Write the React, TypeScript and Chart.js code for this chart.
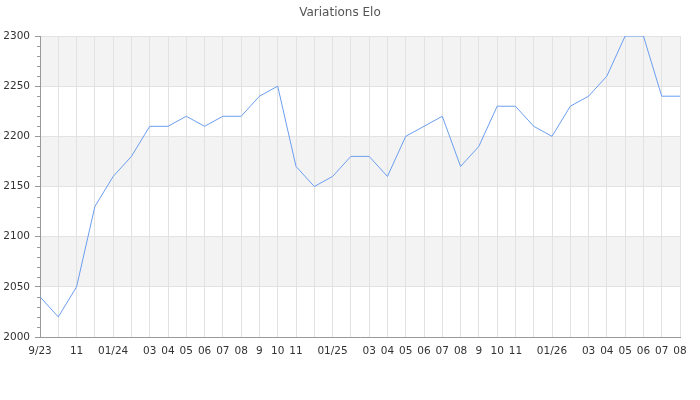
import React, { useEffect, useRef } from "react";
import { Chart, registerables } from "chart.js";

Chart.register(...registerables);

const titleText = "Variations Elo";

const xLabels: string[] = [
  "9/23", "", "11", "", "01/24", "", "03", "04", "05", "06", "07", "08",
  "9", "10", "11", "", "01/25", "", "03", "04", "05", "06", "07", "08",
  "9", "10", "11", "", "01/26", "", "03", "04", "05", "06", "07", "08",
];

const eloValues: number[] = [
  2040, 2020, 2050, 2130, 2160, 2180, 2210, 2210, 2220, 2210, 2220, 2220,
  2240, 2250, 2170, 2150, 2160, 2180, 2180, 2160, 2200, 2210, 2220, 2170,
  2190, 2230, 2230, 2210, 2200, 2230, 2240, 2260, 2300, 2300, 2240, 2240,
];

const yMin = 2000;
const yMax = 2300;
const yMajorStep = 50;
const yMinorStep = 10;

const FONT = "'DejaVu Sans', sans-serif";

const bandsPlugin = {
  id: "bands",
  beforeDraw(chart: any) {
    const { ctx, chartArea } = chart;
    const y = chart.scales.y;
    ctx.save();
    let i = 0;
    for (let v = yMin; v < yMax; v += yMajorStep, i++) {
      if (i % 2 === 1) {
        const top = y.getPixelForValue(v + yMajorStep);
        const bot = y.getPixelForValue(v);
        ctx.fillStyle = "#f3f3f3";
        ctx.fillRect(chartArea.left, top, chartArea.right - chartArea.left, bot - top);
      }
    }
    ctx.restore();
  },
  afterDraw(chart: any) {
    const { ctx } = chart;
    const y = chart.scales.y;
    const x0 = y.right;
    ctx.save();
    ctx.strokeStyle = "#999999";
    ctx.lineWidth = 1;
    for (let v = yMin; v <= yMax; v += yMinorStep) {
      if (v % yMajorStep === 0) continue;
      const py = Math.round(y.getPixelForValue(v)) + 0.5;
      ctx.beginPath();
      ctx.moveTo(x0 - 3, py);
      ctx.lineTo(x0, py);
      ctx.stroke();
    }
    ctx.restore();
  },
};

export default function App() {
  const ref = useRef<HTMLCanvasElement | null>(null);
  useEffect(() => {
    if (!ref.current) return;
    const chart = new Chart(ref.current, {
      type: "line",
      data: {
        labels: xLabels,
        datasets: [
          {
            data: eloValues,
            borderColor: "#6b9ef0",
            borderWidth: 1,
            pointRadius: 0,
            tension: 0,
            fill: false,
          },
        ],
      },
      options: {
        animation: false,
        responsive: true,
        maintainAspectRatio: false,
        layout: { padding: { left: 0, right: 20, top: 0, bottom: 0 } },
        plugins: {
          legend: { display: false },
          tooltip: { enabled: false },
          title: {
            display: true,
            text: titleText,
            color: "#555555",
            font: { family: FONT, size: 12, weight: "normal" as any },
            padding: { top: 6, bottom: 15.6 },
          },
        },
        scales: {
          x: {
            type: "category",
            offset: false,
            grid: {
              color: "#e2e2e2",
              drawTicks: false,
              lineWidth: 1,
            },
            border: { color: "#999999", width: 1 },
            ticks: {
              autoSkip: false,
              maxRotation: 0,
              minRotation: 0,
              padding: 8,
              color: "#333333",
              font: { family: FONT, size: 10.5 },
            },
            afterFit(scale: any) {
              scale.height = 63;
            },
          },
          y: {
            min: yMin,
            max: yMax,
            ticks: {
              stepSize: yMinorStep,
              autoSkip: false,
              padding: 5,
              color: "#333333",
              font: { family: FONT, size: 10.5 },
              callback: (v: any) => (Number(v) % yMajorStep === 0 ? String(v) : ""),
            },
            grid: {
              color: (c: any) => (c.tick && c.tick.value % yMajorStep === 0 ? "#e2e2e2" : "rgba(0,0,0,0)"),
              tickColor: (c: any) => (c.tick && c.tick.value % yMajorStep === 0 ? "#999999" : "rgba(0,0,0,0)"),
              tickLength: 5,
              drawTicks: true,
            },
            border: { color: "#999999", width: 1 },
            afterFit(scale: any) {
              scale.width = 40;
            },
          },
        },
      },
      plugins: [bandsPlugin],
    });
    return () => chart.destroy();
  }, []);
  return (
    <div style={{ position: "absolute", left: 0, top: 0, width: 700, height: 400 }}>
      <canvas ref={ref} />
    </div>
  );
}
